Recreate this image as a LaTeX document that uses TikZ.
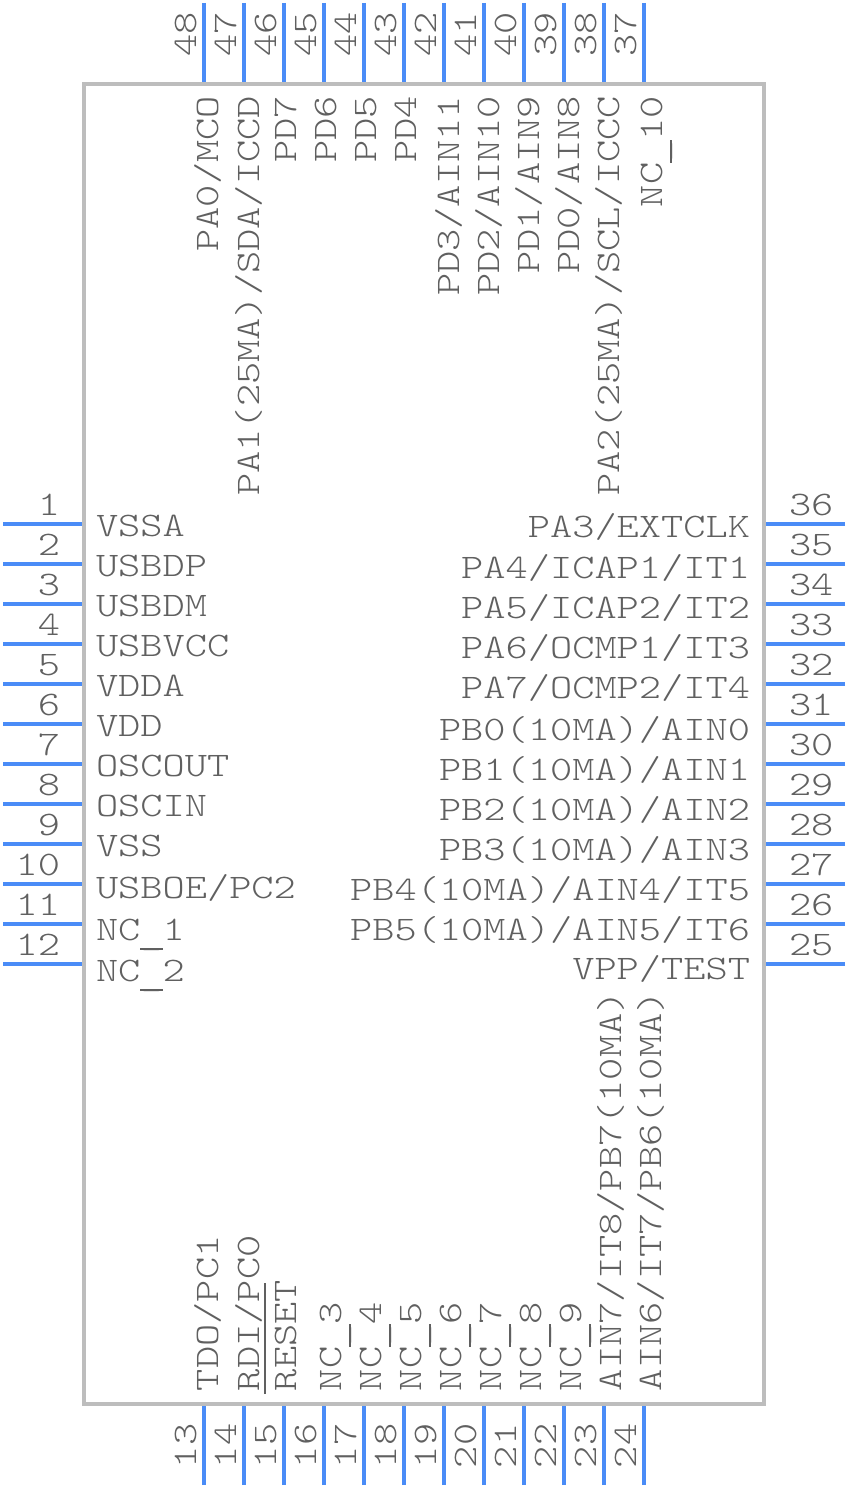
\documentclass[tikz,border=0pt]{standalone}
\usepackage{fontspec}
\setmonofont{Latin Modern Mono Light}[FakeStretch=1.23]
\definecolor{pinblue}{HTML}{4A8CF7}
\definecolor{bodygray}{HTML}{BDBDBD}
\definecolor{txtgray}{HTML}{606060}
\newcommand{\lowbar}{\rlap{\rule[-10pt]{22.2pt}{1.8pt}}\raisebox{-4pt}{\_}}
\tikzset{
  x=1pt,y=-1pt,
  body/.style={draw=bodygray,line width=4pt},
  pinline/.style={draw=pinblue,line width=4pt},
  lbl/.style={inner sep=0pt,outer sep=0pt,text=txtgray,font=\fontsize{34.4}{40}\ttfamily},
}
\begin{document}
\begin{tikzpicture}
\useasboundingbox (0,0) rectangle (848,1488);
\draw[body] (84,84) rectangle (764,1404);
% left
\foreach \n/\t/\yy [count=\i from 0] in {1/VSSA/536,2/USBDP/576,3/USBDM/616,4/USBVCC/656,5/VDDA/696,6/VDD/736,7/OSCOUT/776,8/OSCIN/816,9/VSS/856,10/USBOE\slash PC2/898,11/NC\lowbar 1/940,12/NC\lowbar 2/981}{
  \pgfmathsetmacro\py{524+40*\i}
  \coordinate (la\n) at (3,\py); \coordinate (lb\n) at (82,\py);
  \draw[pinline] (la\n) -- (lb\n);
  \node[lbl,anchor=base east] (ln\n) at (60,\py-9) {\n};
  \node[lbl,anchor=base west] (lt\n) at (96,\yy) {\t};
}
% right
\foreach \n/\t/\yy [count=\i from 0] in {36/PA3\slash EXTCLK/537,35/PA4\slash ICAP1\slash IT1/578,34/PA5\slash ICAP2\slash IT2/618,33/PA6\slash OCMP1\slash IT3/658,32/PA7\slash OCMP2\slash IT4/698,31/PB0(10MA)\slash AIN0/740,30/PB1(10MA)\slash AIN1/780,29/PB2(10MA)\slash AIN2/820,28/PB3(10MA)\slash AIN3/860,27/PB4(10MA)\slash AIN4\slash IT5/900,26/PB5(10MA)\slash AIN5\slash IT6/940,25/VPP\slash TEST/979}{
  \pgfmathsetmacro\py{524+40*\i}
  \coordinate (ra\n) at (845,\py); \coordinate (rb\n) at (766,\py);
  \draw[pinline] (ra\n) -- (rb\n);
  \node[lbl,anchor=base west] (rn\n) at (789,\py-9) {\n};
  \node[lbl,anchor=base east] (rt\n) at (750,\yy) {\t};
}
% top
\foreach \n/\t/\xx [count=\i from 0] in {48/PA0\slash MCO/218,47/PA1(25MA)\slash SDA\slash ICCD/259,46/PD7/296,45/PD6/336,44/PD5/376,43/PD4/416,42/PD3\slash AIN11/459,41/PD2\slash AIN10/499,40/PD1\slash AIN9/539,39/PD0\slash AIN8/579,38/PA2(25MA)\slash SCL\slash ICCC/619,37/NC\lowbar 10/662}{
  \pgfmathsetmacro\px{204+40*\i}
  \coordinate (ta\n) at (\px,3); \coordinate (tb\n) at (\px,82);
  \draw[pinline] (ta\n) -- (tb\n);
  \node[lbl,rotate=90,anchor=base west] (tn\n) at (\px-8,57) {\n};
  \node[lbl,rotate=90,anchor=base east] (tt\n) at (\xx,96) {\t};
}
% bottom
\foreach \n/\t/\xx [count=\i from 0] in {13/TDO\slash PC1/218,14/RDI\slash PC0/259,15/\rlap{\hspace{-3pt}\rule[30pt]{111pt}{1.6pt}}RESET/296,16/NC\lowbar 3/341,17/NC\lowbar 4/381,18/NC\lowbar 5/421,19/NC\lowbar 6/461,20/NC\lowbar 7/501,21/NC\lowbar 8/541,22/NC\lowbar 9/581,23/AIN7\slash IT8\slash PB7(10MA)/621,24/AIN6\slash IT7\slash PB6(10MA)/661}{
  \pgfmathsetmacro\px{204+40*\i}
  \coordinate (ba\n) at (\px,1485); \coordinate (bb\n) at (\px,1406);
  \draw[pinline] (ba\n) -- (bb\n);
  \node[lbl,rotate=90,anchor=base west] (bn\n) at (\px-8,1468) {\n};
  \node[lbl,rotate=90,anchor=base west] (bt\n) at (\xx,1391) {\t};
}
\end{tikzpicture}
\end{document}
